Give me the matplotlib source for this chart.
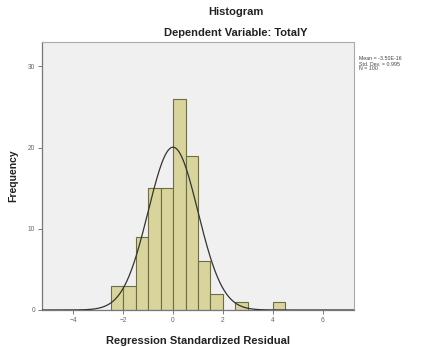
import numpy as np
import matplotlib
matplotlib.use('Agg')
import matplotlib.pyplot as plt

plt.rcParams['font.family'] = ['Liberation Sans', 'DejaVu Sans']

# histogram of standardized residuals (bin width 0.5)
bin_left = [-2.5, -2.0, -1.5, -1.0, -0.5, 0.0, 0.5, 1.0, 1.5, 2.0, 2.5, 3.0, 3.5, 4.0]
counts = [3, 3, 9, 15, 15, 26, 19, 6, 2, 0, 1, 0, 0, 1]
bin_width = 0.5
res_mean = 0.0
res_sd = 0.995
n_obs = 100
x_ticks = [-4, -2, 0, 2, 4, 6]
y_ticks = [0, 10, 20, 30]
stats_lines = ['Mean = -3.50E-16', 'Std. Dev. = 0.995', 'N = 100']

fig = plt.figure(figsize=(4.22, 3.47), dpi=100)
ax = fig.add_axes([42/422, 37/347, 312/422, 268/347])
ax.set_facecolor('#f0f0f0')

heights = np.array(counts)
lefts = np.array(bin_left)
keep = heights > 0
ax.bar(lefts[keep], heights[keep], width=bin_width, align='edge',
       color='#d8d49c', edgecolor='#6e6e46', linewidth=0.8, zorder=2)

xs = np.linspace(-5.25, 7.25, 400)
curve = n_obs * bin_width / (res_sd * np.sqrt(2 * np.pi)) * np.exp(-0.5 * ((xs - res_mean) / res_sd) ** 2)
ax.plot(xs, curve, color='#333333', linewidth=0.9, zorder=3)

ax.set_xlim(-5.25, 7.25)
ax.set_ylim(0, 33)
ax.set_xticks(x_ticks)
ax.set_yticks(y_ticks)
ax.tick_params(labelsize=4.8, colors='#666666', length=3, width=0.6, pad=2)
for side in ['left', 'bottom']:
    ax.spines[side].set_color('#777777')
    ax.spines[side].set_linewidth(0.9)
for side in ['top', 'right']:
    ax.spines[side].set_color('#aaaaaa')
    ax.spines[side].set_linewidth(0.8)

ax.set_xlabel('Regression Standardized Residual', fontsize=8, fontweight='bold', labelpad=9, color='#222222')
ax.set_ylabel('Frequency', fontsize=7.5, fontweight='bold', labelpad=7, color='#222222')

fig.text(236/422, 1 - 12/347, 'Histogram', ha='center', va='center', fontsize=8, fontweight='bold', color='#222222')
fig.text(236/422, 1 - 33/347, 'Dependent Variable: TotalY', ha='center', va='center', fontsize=8, fontweight='bold', color='#222222')

for i, line in enumerate(stats_lines):
    fig.text(359/422, 1 - (59 + 5 * i)/347, line, ha='left', va='center', fontsize=3.8, color='#444444')

fig.savefig('out.png', dpi=100)
